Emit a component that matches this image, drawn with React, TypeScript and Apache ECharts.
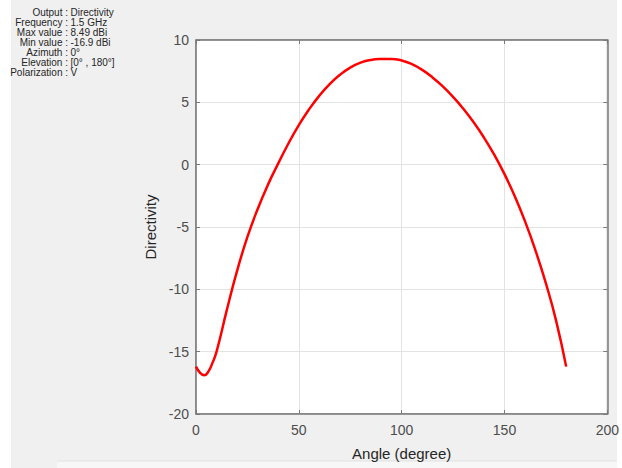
import React, { useEffect, useRef } from "react";
import * as echarts from "echarts";

const angles = [0, 2, 4, 6, 8, 10, 15, 20, 25, 30, 35, 40, 45, 50, 55, 60, 65, 70, 75, 80, 85, 90, 95, 100, 105, 110, 115, 120, 125, 130, 135, 140, 145, 150, 155, 160, 165, 170, 175, 180];
const directivity = [-16.2, -16.7, -16.9, -16.6, -15.9, -15.0, -11.65, -8.5, -5.8, -3.55, -1.6, 0.1, 1.72, 3.17, 4.44, 5.54, 6.46, 7.21, 7.78, 8.18, 8.4, 8.47, 8.48, 8.36, 8.06, 7.6, 7.0, 6.28, 5.44, 4.48, 3.4, 2.18, 0.8, -0.76, -2.53, -4.55, -6.85, -9.45, -12.45, -16.2];

const xTicks = [0, 50, 100, 150, 200];
const yTicks = [-20, -15, -10, -5, 0, 5, 10];

const infoLabels = ["Output", "Frequency", "Max value", "Min value", "Azimuth", "Elevation", "Polarization"];
const infoValues = ["Directivity", "1.5 GHz", "8.49 dBi", "-16.9 dBi", "0°", "[0° , 180°]", "V"];

const FONT = "Liberation Sans, Arial, sans-serif";

export default function App() {
  const ref = useRef<HTMLDivElement>(null);
  useEffect(() => {
    if (!ref.current) return;
    const chart = echarts.init(ref.current, undefined, { renderer: "svg" });
    const data = angles.map((a, i) => [a, directivity[i]]);
    const infoY0 = 12.7;
    const infoStep = 10;
    const graphics: any[] = [
      { type: "rect", shape: { x: 0, y: 0, width: 11, height: 468 }, style: { fill: "#ffffff" }, silent: true },
      { type: "rect", shape: { x: 617, y: 0, width: 5, height: 468 }, style: { fill: "#ffffff" }, silent: true },
      { type: "rect", shape: { x: 57, y: 461, width: 560, height: 7 }, style: { fill: "#f7f7f7" }, silent: true },
      { type: "line", shape: { x1: 57, y1: 461, x2: 617, y2: 461 }, style: { stroke: "#e2e2e2", lineWidth: 1 }, silent: true },
    ];
    infoLabels.forEach((lab, i) => {
      graphics.push({
        type: "text",
        x: 68,
        y: infoY0 + i * infoStep,
        style: { text: lab + " :", align: "right", verticalAlign: "middle", fontSize: 10, fontFamily: FONT, fill: "#262626" },
        silent: true,
      });
      graphics.push({
        type: "text",
        x: 70.5,
        y: infoY0 + i * infoStep,
        style: { text: infoValues[i], align: "left", verticalAlign: "middle", fontSize: 10, fontFamily: FONT, fill: "#262626" },
        silent: true,
      });
    });

    const axisLine = { show: true, onZero: false, lineStyle: { color: "#7a7a7a", width: 1.5 } };
    const splitLine = { show: true, lineStyle: { color: "#e3e3e3", width: 1 } };
    const tickInside = { show: true, inside: true, length: 4, lineStyle: { color: "#7a7a7a", width: 1 } };

    chart.setOption({
      animation: false,
      backgroundColor: "#f0f0f0",
      grid: { left: 196, right: 14, top: 40, bottom: 54, show: true, backgroundColor: "#ffffff", borderColor: "#7a7a7a", borderWidth: 1 },
      graphic: graphics,
      xAxis: [
        {
          type: "value",
          min: xTicks[0],
          max: xTicks[xTicks.length - 1],
          interval: 50,
          position: "bottom",
          name: "Angle (degree)",
          nameLocation: "middle",
          nameGap: 32,
          nameTextStyle: { fontSize: 15, fontFamily: FONT, color: "#262626" },
          axisLine,
          axisTick: tickInside,
          splitLine,
          axisLabel: { fontSize: 14, fontFamily: FONT, color: "#4d4d4d", margin: 9 },
        },
        {
          type: "value",
          min: xTicks[0],
          max: xTicks[xTicks.length - 1],
          interval: 50,
          position: "top",
          axisLine,
          axisTick: tickInside,
          splitLine: { show: false },
          axisLabel: { show: false },
        },
      ],
      yAxis: [
        {
          type: "value",
          min: yTicks[0],
          max: yTicks[yTicks.length - 1],
          interval: 5,
          position: "left",
          name: "Directivity",
          nameLocation: "middle",
          nameGap: 28,
          nameTextStyle: { fontSize: 15, fontFamily: FONT, color: "#262626" },
          axisLine,
          axisTick: tickInside,
          splitLine,
          axisLabel: { fontSize: 14, fontFamily: FONT, color: "#4d4d4d", margin: 7 },
        },
        {
          type: "value",
          min: yTicks[0],
          max: yTicks[yTicks.length - 1],
          interval: 5,
          position: "right",
          axisLine,
          axisTick: tickInside,
          splitLine: { show: false },
          axisLabel: { show: false },
        },
      ],
      series: [
        {
          type: "line",
          data,
          smooth: 0.5,
          smoothConstraint: false,
          showSymbol: false,
          lineStyle: { color: "#ff0000", width: 2.5 },
          itemStyle: { color: "#ff0000" },
        },
      ],
    });
    return () => chart.dispose();
  }, []);
  return <div ref={ref} style={{ position: "fixed", left: 0, top: 0, width: 622, height: 468 }} />;
}
